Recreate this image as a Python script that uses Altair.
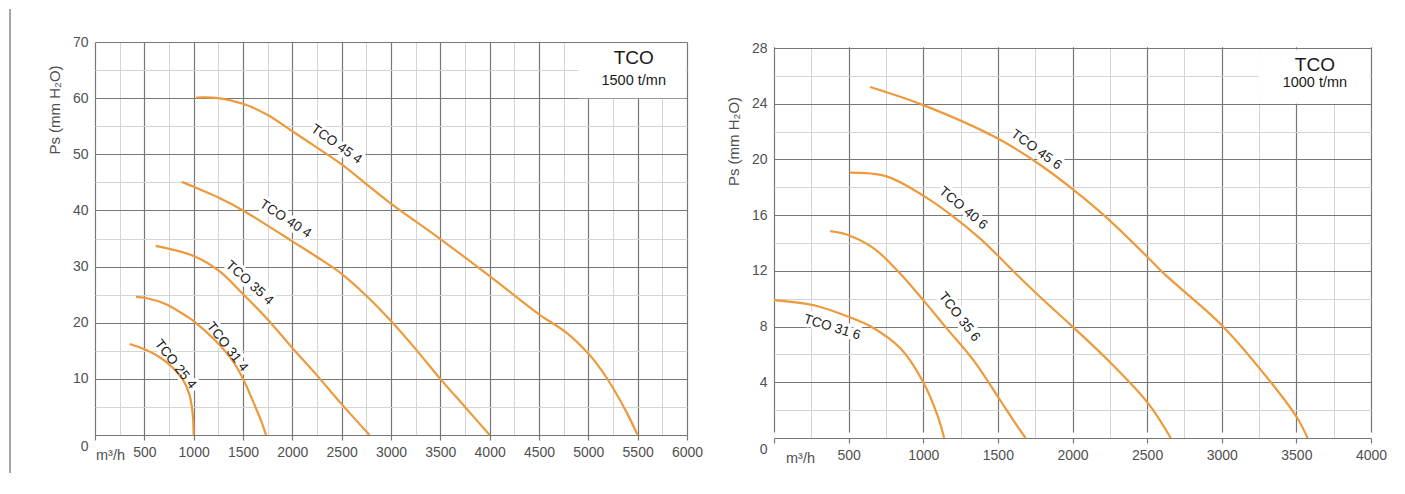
import altair as alt
import pandas as pd

ORANGE = "#EC9A3C"
FONT = "Liberation Sans"

# ---------------- Left panel : TCO 1500 t/mn ----------------
L_names = ["TCO 25 4", "TCO 31 4", "TCO 35 4", "TCO 40 4", "TCO 45 4"]
L_q = [
    [350, 483, 652, 787, 889, 957, 990, 1000],
    [415, 517, 720, 923, 1000, 1227, 1396, 1500, 1599, 1684, 1733],
    [615, 1000, 1261, 1500, 1734, 2000, 2241, 2500, 2782],
    [878, 1000, 1250, 1500, 1750, 2000, 2250, 2500, 2750, 3000, 3250, 3500, 3750, 4000],
    [1024, 1250, 1500, 1750, 2000, 2250, 2500, 2750, 3000, 3500, 4000, 4500, 4780, 5000,
     5114, 5200, 5380, 5500],
]
L_p = [
    [16.2, 15.4, 13.9, 12.0, 9.9, 7.2, 3.8, 0],
    [24.6, 24.4, 23.3, 21.2, 20.3, 16.7, 13.2, 10.0, 6.1, 2.5, 0],
    [33.7, 31.9, 29.2, 25.1, 20.9, 15.5, 10.8, 5.5, 0],
    [45.1, 44.2, 42.3, 40.0, 37.3, 34.5, 31.7, 28.7, 24.8, 20.3, 15.3, 10.0, 5.0, 0],
    [60.1, 60.0, 59.0, 57.0, 54.1, 51.2, 48.2, 44.7, 41.2, 34.9, 28.3, 21.5, 18.2, 14.5,
     12.0, 9.8, 4.3, 0],
]
L_lab_q = [815, 1341, 1566, 1930, 2447]
L_lab_p = [12.6, 15.7, 27.1, 38.5, 51.8]
L_lab_angle = [52, 52, 42, 33, 35]
L_title = ["TCO", "1500 t/mn"]
L_title_q = [5460, 5460]
L_title_p = [67.2, 63.1]
L_box = {"q": [4900], "q2": [5985], "p": [60.0], "p2": [69.8]}

# ---------------- Right panel : TCO 1000 t/mn ----------------
R_names = ["TCO 31 6", "TCO 35 6", "TCO 40 6", "TCO 45 6"]
R_q = [
    [0, 268, 500, 649, 850, 1000, 1096, 1140],
    [376, 500, 671, 828, 1000, 1163, 1342, 1510, 1611, 1685],
    [507, 750, 1000, 1188, 1383, 1500, 1611, 1785, 2000, 2255, 2506, 2658],
    [644, 1000, 1500, 1785, 2009, 2210, 2502, 2613, 3000, 3329, 3508, 3575],
]
R_p = [
    [9.9, 9.53, 8.7, 8.0, 6.4, 4.0, 1.6, 0],
    [14.85, 14.56, 13.6, 12.0, 9.9, 7.8, 5.5, 2.8, 1.15, 0],
    [19.05, 18.8, 17.4, 16.0, 14.3, 13.1, 11.9, 10.1, 8.0, 5.4, 2.5, 0],
    [25.2, 23.9, 21.5, 19.6, 17.8, 16.0, 13.0, 11.8, 8.1, 4.0, 1.4, 0],
]
R_lab_q = [389, 1242, 1268, 1758]
R_lab_p = [7.95, 8.7, 16.5, 20.7]
R_lab_angle = [17, 52, 40, 36]
R_title = ["TCO", "1000 t/mn"]
R_title_q = [3624, 3624]
R_title_p = [26.8, 25.5]
R_box = {"q": [3250], "q2": [3990], "p": [24.0], "p2": [27.9]}


def build(names, qs, ps, lab_q, lab_p, lab_ang, titles, title_q, title_p, box,
          xmax, xstep, ymax, ystep, width, height, top_off, title_y, unit_dx, extra_rule):
    rows = []
    for n, q, p in zip(names, qs, ps):
        for i, (a, b) in enumerate(zip(q, p)):
            rows.append({"name": n, "q": a, "p": b, "i": i})
    curves = pd.DataFrame(rows)
    labels = pd.DataFrame({"name": names, "q": lab_q, "p": lab_p, "angle": lab_ang})
    tdf = pd.DataFrame({"t": titles, "q": title_q, "p": title_p, "s": [19, 14.5]})
    bdf = pd.DataFrame(box)

    xmajor = list(range(0, xmax + 1, xstep))
    xminor = list(range(xstep // 2, xmax, xstep))
    ymajor = list(range(0, ymax + 1, ystep))
    yminor = list(range(ystep // 2, ymax, ystep))

    xs = alt.Scale(domain=[0, xmax], nice=False, zero=True)
    ys = alt.Scale(domain=[0, ymax], nice=False, zero=True, range=[height, top_off])
    X = lambda f: alt.X(f, scale=xs, axis=None)
    Y = lambda f: alt.Y(f, scale=ys, axis=None)

    minor = alt.Chart(curves).mark_point(opacity=0).encode(
        x=alt.X("q:Q", scale=xs, axis=alt.Axis(
            orient="top", values=xminor, grid=True, gridColor="#d4d4d4", gridWidth=1,
            labels=False, ticks=False, domain=False, title=None)),
        y=alt.Y("p:Q", scale=ys, axis=alt.Axis(
            orient="right", values=yminor, grid=True, gridColor="#d4d4d4", gridWidth=1,
            labels=False, ticks=False, domain=False, title=None)),
    )

    layers = [minor]
    if top_off > 0:
        mask = alt.Chart(pd.DataFrame({"k": [0]})).mark_rect(color="white").encode(
            x=alt.value(0), x2=alt.value(width + 1), y=alt.value(-1), y2=alt.value(top_off - 0.7))
        layers.append(mask)

    box_layer = alt.Chart(bdf).mark_rect(color="white", opacity=1).encode(
        x=X("q:Q"), x2="q2:Q", y=Y("p:Q"), y2="p2:Q")

    halo = alt.Chart(labels).mark_text(
        font=FONT, fontSize=13.5, color="white", stroke="white", strokeWidth=7,
        strokeJoin="round", align="center", baseline="middle").encode(
        x=X("q:Q"), y=Y("p:Q"),
        angle=alt.Angle("angle:Q", scale=None), text="name:N")

    lines = alt.Chart(curves).mark_line(
        color=ORANGE, strokeWidth=2.2, interpolate="catmull-rom").encode(
        x=alt.X("q:Q", scale=xs, axis=alt.Axis(
            orient="bottom", values=xmajor, grid=True, gridColor="#777777", gridWidth=1.2,
            domain=False, ticks=True, tickSize=5, tickColor="#777777", tickWidth=1.2,
            labelExpr="datum.value == 0 ? '' : datum.label", format="d",
            labelFont=FONT, labelFontSize=14, labelColor="#505050", labelPadding=5,
            labelFlush=False, labelOverlap=False, title=None)),
        y=alt.Y("p:Q", scale=ys, axis=alt.Axis(
            orient="left", values=ymajor, grid=True, gridColor="#777777", gridWidth=1.2,
            domain=False, ticks=False, format="d",
            labelFont=FONT, labelFontSize=14, labelColor="#505050", labelPadding=7,
            labelOffset={"condition": {"test": "datum.value == 0", "value": 11}, "value": 0},
            title="Ps (mm H₂O)", titleFont=FONT, titleFontSize=15, titleFontWeight="normal",
            titleColor="#505050", titleX=-41, titleY=title_y, titleAngle=270,
            titleAlign="center", titleBaseline="middle")),
        detail="name:N", order="i:Q",
    )

    text = alt.Chart(labels).mark_text(
        font=FONT, fontSize=13.5, color="#1a1a1a", align="center", baseline="middle").encode(
        x=X("q:Q"), y=Y("p:Q"),
        angle=alt.Angle("angle:Q", scale=None), text="name:N")

    ttl = alt.Chart(tdf).mark_text(
        font=FONT, color="#1a1a1a", align="center", baseline="middle").encode(
        x=X("q:Q"), y=Y("p:Q"),
        size=alt.Size("s:Q", scale=None), text="t:N")

    unit = alt.Chart(pd.DataFrame({"u": ["m³/h"]})).mark_text(
        font=FONT, fontSize=14.5, color="#505050", align="left", baseline="middle").encode(
        x=alt.value(unit_dx), y=alt.value(height + 21), text="u:N")

    layers += [box_layer, halo, lines, text, ttl, unit]
    if extra_rule is not None:
        rule = alt.Chart(pd.DataFrame({"k": [0]})).mark_rule(
            color=extra_rule[3], strokeWidth=1.5).encode(
            x=alt.value(extra_rule[0]), y=alt.value(extra_rule[1]), y2=alt.value(extra_rule[2]))
        layers.append(rule)

    return alt.layer(*layers).properties(width=width, height=height)


left = build(L_names, L_q, L_p, L_lab_q, L_lab_p, L_lab_angle, L_title, L_title_q,
             L_title_p, L_box, 6000, 500, 70, 10, 592, 393, 0, 67.5, 1,
             (-85, -33, 431, "#8a8a8a"))
right = build(R_names, R_q, R_p, R_lab_q, R_lab_p, R_lab_angle, R_title, R_title_q,
              R_title_p, R_box, 4000, 500, 28, 4, 597, 396, 6, 99, 12, None)

chart = alt.hconcat(left, right, spacing=23).properties(
    padding={"left": 1, "top": 0, "right": 5, "bottom": 5}
).configure_view(stroke=None)

chart.save("out.html", embed_options={"renderer": "svg", "actions": False})
